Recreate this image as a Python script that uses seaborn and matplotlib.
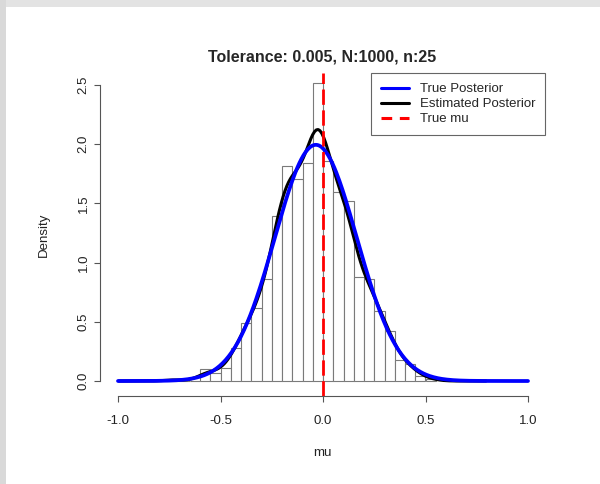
import numpy as np
import pandas as pd
import matplotlib
matplotlib.use("Agg")
import matplotlib.pyplot as plt
import seaborn as sns
from matplotlib.patches import Rectangle
from matplotlib.lines import Line2D

# ---- data ----
bin_left = [-0.75, -0.70, -0.65, -0.60, -0.55, -0.50, -0.45, -0.40, -0.35,
            -0.30, -0.25, -0.20, -0.15, -0.10, -0.05, 0.00, 0.05, 0.10,
            0.15, 0.20, 0.25, 0.30, 0.35, 0.40, 0.45, 0.50]
bin_density = [0.02, 0.00, 0.00, 0.10, 0.07, 0.11, 0.28, 0.49, 0.62,
               0.86, 1.39, 1.82, 1.71, 1.84, 2.52, 1.86, 1.60, 1.52,
               0.88, 0.86, 0.59, 0.42, 0.18, 0.14, 0.04, 0.02]
bin_width = 0.05
true_post_mean = -0.035
true_post_sd = 0.20
true_mu = 0.0
kde_bandwidth = 0.045
x_ticks = [-1.0, -0.5, 0.0, 0.5, 1.0]
y_ticks = [0.0, 0.5, 1.0, 1.5, 2.0, 2.5]
title = "Tolerance: 0.005, N:1000, n:25"
legend_labels = ["True Posterior", "Estimated Posterior", "True mu"]

centers = np.array(bin_left) + bin_width / 2
weights = np.array(bin_density)
df = pd.DataFrame({"mu": centers, "density": weights})

grid = np.linspace(-1, 1, 401)
true_pdf = np.exp(-0.5 * ((grid - true_post_mean) / true_post_sd) ** 2) / (true_post_sd * np.sqrt(2 * np.pi))
df_true = pd.DataFrame({"mu": grid, "pdf": true_pdf})

wmean = np.sum(centers * weights) / weights.sum()
wstd = np.sqrt(np.sum(weights * (centers - wmean) ** 2) / weights.sum())
bw_factor = kde_bandwidth / wstd

# ---- figure ----
sns.set_style("white")
plt.rcParams["font.family"] = ["Liberation Sans", "DejaVu Sans"]

W, H = 600, 484
fig = plt.figure(figsize=(W / 100, H / 100), dpi=100)
fig.patch.set_facecolor("white")
# grey frame (top and left)
fig.patches.append(Rectangle((0, 1 - 7 / H), 1, 7 / H, transform=fig.transFigure,
                             facecolor="#e3e3e3", edgecolor="none", zorder=0))
fig.patches.append(Rectangle((0, 0), 6 / W, 1, transform=fig.transFigure,
                             facecolor="#d9d9d9", edgecolor="none", zorder=0))

left_px, right_px, top_px, bot_px = 100, 545, 73, 396
ax = fig.add_axes([left_px / W, 1 - bot_px / H, (right_px - left_px) / W, (bot_px - top_px) / H])
ax.set_facecolor("none")

sns.histplot(data=df, x="mu", weights="density", binwidth=bin_width,
             binrange=(bin_left[0], bin_left[-1] + bin_width), stat="count",
             fill=True, color="white", edgecolor="#7a7a7a", linewidth=0.8,
             alpha=1, ax=ax)
sns.kdeplot(data=df, x="mu", weights="density", bw_method=bw_factor, cut=3,
            color="black", linewidth=2.2, ax=ax)
sns.lineplot(data=df_true, x="mu", y="pdf", color="#0000ff", linewidth=2.7, ax=ax)
ax.axvline(true_mu, color="#ff0000", linewidth=2.0, dashes=(5.5, 2.0))

px_per_x = 205.0
px_per_y = 118.4
x0_px, y0_px = 323, 381
ax.set_xlim((left_px - x0_px) / px_per_x, (right_px - x0_px) / px_per_x)
ax.set_ylim((y0_px - bot_px) / px_per_y, (y0_px - top_px) / px_per_y)

ax.set_xticks(x_ticks)
ax.set_xticklabels([f"{v:.1f}" for v in x_ticks])
ax.set_yticks(y_ticks)
ax.set_yticklabels([f"{v:.1f}" for v in y_ticks], rotation=90, va="center")
ax.tick_params(axis="both", direction="out", length=4.5, width=0.8, color="#555555",
               labelsize=9.5, labelcolor="#222222", bottom=True, left=True)
ax.tick_params(axis="x", pad=9.5)
ax.tick_params(axis="y", pad=3)
for s in ["top", "right"]:
    ax.spines[s].set_visible(False)
ax.spines["bottom"].set_bounds(x_ticks[0], x_ticks[-1])
ax.spines["left"].set_bounds(y_ticks[0], y_ticks[-1])
for s in ["bottom", "left"]:
    ax.spines[s].set_color("#555555")
    ax.spines[s].set_linewidth(0.8)

ax.set_xlabel("mu", fontsize=9.5, color="#222222", labelpad=14)
ax.set_ylabel("Density", fontsize=9.5, color="#222222", labelpad=20)
ax.set_title(title, fontsize=11.5, fontweight="bold", pad=8)

handles = [Line2D([], [], color="#0000ff", linewidth=2.2),
           Line2D([], [], color="black", linewidth=2.2),
           Line2D([], [], color="#ff0000", linewidth=2.2, dashes=(3.5, 2.5))]
leg = ax.legend(handles, legend_labels, loc="upper right", bbox_to_anchor=(1, 1),
                borderaxespad=0, frameon=True, fancybox=False, framealpha=1,
                edgecolor="#666666", fontsize=9.5, handlelength=2.1,
                handletextpad=0.8, labelspacing=0.22, borderpad=0.75)
leg.get_frame().set_linewidth(0.8)

fig.savefig("out.png", dpi=100)
